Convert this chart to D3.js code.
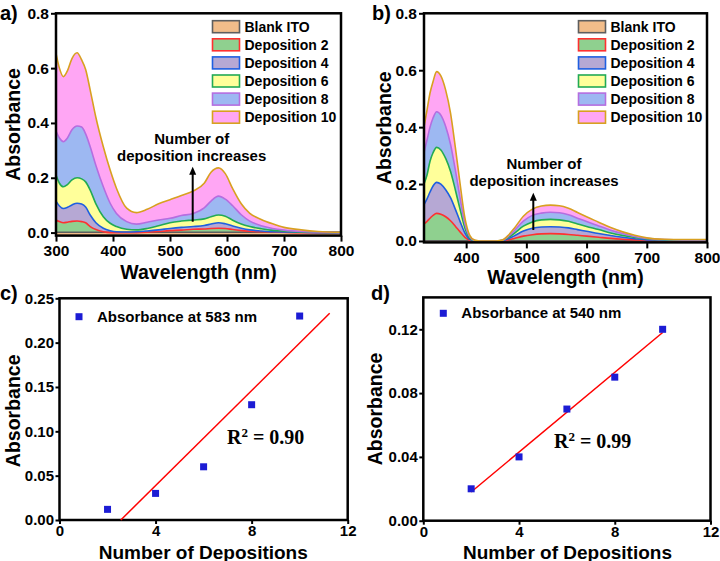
<!DOCTYPE html>
<html><head><meta charset="utf-8">
<script src="https://cdn.jsdelivr.net/npm/d3@7"></script>
<style>
body{margin:0;background:#fff;}
svg{display:block;}
</style></head><body>
<svg id="fig" width="720" height="561"></svg>
<script>
// ---------------- DATA ----------------
const seriesNames = ["Blank ITO","Deposition 2","Deposition 4","Deposition 6","Deposition 8","Deposition 10"];

// Panel a
const wlA = [300,306,313,320,328,337,345,352,360,370,383,395,406,424,441,460,480,500,520,541,560,572,585,597,610,625,640,660,680,700,730,760,800];
const wlBlankA = [300,800];
const blankA = [0.001,0.001];
const dep2A = [0.046,0.040,0.036,0.038,0.041,0.042,0.040,0.036,0.022,0.011,0.003,0.000,0.000,0.000,0.000,0.001,0.004,0.007,0.009,0.012,0.013,0.015,0.016,0.015,0.011,0.007,0.005,0.003,0.002,0.001,0.000,0.000,0.000];
const dep4A = [0.115,0.097,0.088,0.092,0.101,0.107,0.104,0.093,0.064,0.036,0.016,0.007,0.003,0.002,0.003,0.006,0.010,0.015,0.019,0.022,0.026,0.031,0.036,0.032,0.024,0.016,0.010,0.006,0.003,0.002,0.001,0.000,0.000];
const dep6A = [0.210,0.180,0.167,0.175,0.192,0.200,0.196,0.185,0.155,0.105,0.058,0.034,0.022,0.012,0.010,0.015,0.025,0.036,0.042,0.046,0.050,0.058,0.064,0.060,0.045,0.031,0.022,0.014,0.008,0.005,0.002,0.001,0.000];
const dep8A = [0.370,0.345,0.332,0.345,0.375,0.389,0.385,0.360,0.313,0.245,0.167,0.107,0.070,0.040,0.031,0.038,0.046,0.052,0.062,0.070,0.090,0.115,0.133,0.122,0.098,0.065,0.042,0.025,0.015,0.009,0.004,0.002,0.000];
const dep10A = [0.654,0.600,0.569,0.590,0.635,0.656,0.630,0.595,0.520,0.420,0.313,0.228,0.162,0.089,0.073,0.085,0.105,0.120,0.135,0.152,0.180,0.220,0.236,0.215,0.160,0.105,0.070,0.048,0.032,0.019,0.010,0.004,0.001];

// Panel b
const wlB = [330,335,340,345,351,358,366,374,382,390,398,406,414,422,450,460,470,480,495,510,525,540,555,570,585,600,620,640,660,680,700,730,760,800];
const wlBlankB = [330,800];
const blankB = [0.001,0.001];
const dep2B = [0.060,0.069,0.080,0.090,0.097,0.094,0.085,0.071,0.052,0.032,0.013,0.003,0.000,0.000,0.000,0.000,0.004,0.009,0.017,0.022,0.025,0.026,0.025,0.023,0.020,0.017,0.013,0.009,0.006,0.004,0.002,0.001,0.001,0.001];
const dep4B = [0.128,0.148,0.172,0.193,0.206,0.200,0.180,0.152,0.112,0.068,0.028,0.006,0.001,0.000,0.000,0.001,0.008,0.018,0.035,0.045,0.049,0.050,0.049,0.046,0.040,0.034,0.026,0.019,0.013,0.008,0.004,0.003,0.002,0.002];
const dep6B = [0.200,0.232,0.280,0.310,0.329,0.320,0.290,0.245,0.180,0.110,0.045,0.010,0.001,0.000,0.000,0.002,0.012,0.027,0.052,0.067,0.074,0.076,0.074,0.069,0.060,0.051,0.040,0.028,0.019,0.012,0.007,0.004,0.003,0.003];
const dep8B = [0.310,0.355,0.400,0.432,0.454,0.442,0.402,0.340,0.250,0.150,0.060,0.015,0.002,0.000,0.000,0.002,0.016,0.036,0.070,0.090,0.098,0.101,0.099,0.092,0.080,0.068,0.053,0.038,0.026,0.016,0.009,0.005,0.004,0.004];
const dep10B = [0.400,0.460,0.520,0.560,0.595,0.580,0.530,0.450,0.330,0.200,0.080,0.020,0.003,0.000,0.000,0.003,0.020,0.045,0.087,0.112,0.123,0.126,0.124,0.115,0.100,0.085,0.066,0.047,0.032,0.020,0.011,0.006,0.005,0.005];

// Panels c, d
const depositions = [2,4,6,8,10];
const abs583 = [0.012,0.030,0.060,0.130,0.230];
const abs540 = [0.020,0.040,0.070,0.090,0.120];

// Tick values
const xTicksA = [300,400,500,600,700,800];
const xTicksB = [400,500,600,700,800];
const yTicksAB = [0,0.2,0.4,0.6,0.8];
const xTicksCD = [0,4,8,12];
const yTicksC = [0,0.05,0.10,0.15,0.20,0.25];
const yTicksD = [0,0.04,0.08,0.12];

// ---------------- STYLE ----------------
const FONT = "'Liberation Sans', Arial, Helvetica, sans-serif";
const fills = ["#f2bd8a","#8fd08f","#b6a8d4","#ffff9a","#9db8f2","#ffa6f4"];
const strokes = ["#5e5e5e","#ff3030","#1f5fe0","#22aa55","#b46ee0","#d8a020"];

const svg = d3.select("#fig");

function styleAxis(g, size) {
  g.attr("font-family", FONT).attr("font-size", size).attr("font-weight", "bold");
  g.select(".domain").remove();
  g.selectAll(".tick line").attr("stroke", "#000").attr("stroke-width", 2);
  g.selectAll(".tick text").attr("fill", "#000");
}

function drawSpectrum(p) {
  const x = d3.scaleLinear().domain(p.xDomain).range([p.left, p.right]);
  const y = d3.scaleLinear().domain(p.yDomain).range([p.bottom, p.top]);
  const g = svg.append("g");
  const clipId = "clip" + p.id;
  g.append("clipPath").attr("id", clipId).append("rect")
    .attr("x", p.left).attr("y", p.top).attr("width", p.right - p.left).attr("height", p.bottom - p.top);
  const pl = g.append("g").attr("clip-path", `url(#${clipId})`);
  const layers = p.series;
  for (let i = layers.length - 1; i >= 0; i--) {
    const L = layers[i];
    const base = i === 0 ? y(p.yDomain[0]) : y(0);
    const area = d3.area().x((d, j) => x(L.wl[j])).y0(base).y1(d => y(d)).curve(d3.curveMonotoneX);
    pl.append("path").datum(L.vals).attr("d", area).attr("fill", fills[i]);
  }
  for (let i = 0; i < layers.length; i++) {
    const L = layers[i];
    const line = d3.line().x((d, j) => x(L.wl[j])).y(d => y(d)).curve(d3.curveMonotoneX);
    pl.append("path").datum(L.vals).attr("d", line).attr("fill", "none")
      .attr("stroke", strokes[i]).attr("stroke-width", 1.6);
  }
  // axes
  const gx = g.append("g").attr("transform", `translate(0,${p.bottom})`)
    .call(d3.axisBottom(x).tickValues(p.xTicks).tickFormat(d3.format("d")).tickSize(6).tickPadding(p.xPad));
  styleAxis(gx, 15.5);
  const gy = g.append("g").attr("transform", `translate(${p.left},0)`)
    .call(d3.axisLeft(y).tickValues(p.yTicks).tickFormat(d3.format(".1f")).tickSize(5).tickPadding(2));
  styleAxis(gy, 15.5);
  // frame
  g.append("rect").attr("x", p.left).attr("y", p.top).attr("width", p.right - p.left).attr("height", p.bottom - p.top)
    .attr("fill", "none").attr("stroke", "#000").attr("stroke-width", 2.5);
  // titles
  g.append("text").attr("x", (p.left + p.right) / 2).attr("y", p.xTitleY).attr("text-anchor", "middle")
    .attr("font-family", FONT).attr("font-weight", "bold").attr("font-size", 19.5).text("Wavelength (nm)");
  g.append("text").attr("transform", `translate(${p.yTitleX},${(p.top + p.bottom) / 2}) rotate(-90)`)
    .attr("text-anchor", "middle").attr("font-family", FONT).attr("font-weight", "bold").attr("font-size", 19.5).text("Absorbance");
  g.append("text").attr("x", p.labelX).attr("y", 20).attr("font-family", FONT).attr("font-weight", "bold")
    .attr("font-size", 20).text(p.label);
  // legend
  seriesNames.forEach((n, i) => {
    const cy = 26.7 + i * 18.1;
    g.append("rect").attr("x", p.legX).attr("y", cy - 6).attr("width", 27).attr("height", 12)
      .attr("fill", fills[i]).attr("stroke", strokes[i]).attr("stroke-width", 1.6);
    g.append("text").attr("x", p.legX + 32).attr("y", cy + 5).attr("font-family", FONT)
      .attr("font-weight", "bold").attr("font-size", 14).text(n);
  });
  // annotation
  g.append("text").attr("x", p.annX).attr("y", p.annY1).attr("text-anchor", "middle").attr("font-family", FONT)
    .attr("font-weight", "bold").attr("font-size", 15).text("Number of");
  g.append("text").attr("x", p.annX).attr("y", p.annY2).attr("text-anchor", "middle").attr("font-family", FONT)
    .attr("font-weight", "bold").attr("font-size", 15).text("deposition increases");
  g.append("line").attr("x1", p.arrX).attr("x2", p.arrX).attr("y1", p.arrY1).attr("y2", p.arrY2 + 6)
    .attr("stroke", "#000").attr("stroke-width", 2);
  g.append("path").attr("d", `M${p.arrX - 3.5},${p.arrY2 + 8} L${p.arrX},${p.arrY2} L${p.arrX + 3.5},${p.arrY2 + 8} Z`).attr("fill", "#000");
}

drawSpectrum({
  id: "a", label: "a)", labelX: 0,
  xDomain: [300, 800], yDomain: [-0.011, 0.8], left: 56, right: 341, top: 13.3, bottom: 235.6,
  xTicks: xTicksA, yTicks: yTicksAB, xPad: 3, xTitleY: 279.3, yTitleX: 20,
  series: [
    {wl: wlBlankA, vals: blankA}, {wl: wlA, vals: dep2A}, {wl: wlA, vals: dep4A},
    {wl: wlA, vals: dep6A}, {wl: wlA, vals: dep8A}, {wl: wlA, vals: dep10A}
  ],
  legX: 212.5, annX: 191.7, annY1: 144, annY2: 161, arrX: 192.7, arrY1: 221.7, arrY2: 166.7
});

drawSpectrum({
  id: "b", label: "b)", labelX: 372,
  xDomain: [330, 800], yDomain: [-0.005, 0.8], left: 424, right: 707, top: 13.3, bottom: 242.4,
  xTicks: xTicksB, yTicks: yTicksAB, xPad: 3.5, xTitleY: 284.3, yTitleX: 391,
  series: [
    {wl: wlBlankB, vals: blankB}, {wl: wlB, vals: dep2B}, {wl: wlB, vals: dep4B},
    {wl: wlB, vals: dep6B}, {wl: wlB, vals: dep8B}, {wl: wlB, vals: dep10B}
  ],
  legX: 578.5, annX: 544, annY1: 169, annY2: 186, arrX: 533.3, arrY1: 230, arrY2: 192.7
});

function drawScatter(p) {
  const x = d3.scaleLinear().domain([0, 12]).range([p.left, p.right]);
  const y = d3.scaleLinear().domain(p.yDomain).range([p.bottom, p.top]);
  const g = svg.append("g");
  const gx = g.append("g").attr("transform", `translate(0,${p.bottom})`)
    .call(d3.axisBottom(x).tickValues(xTicksCD).tickFormat(d3.format("d")).tickSize(4).tickPadding(p.xPad));
  styleAxis(gx, 15);
  const gy = g.append("g").attr("transform", `translate(${p.left},0)`)
    .call(d3.axisLeft(y).tickValues(p.yTicks).tickFormat(d3.format(".2f")).tickSize(4).tickPadding(1.5));
  styleAxis(gy, 15);
  g.append("rect").attr("x", p.left).attr("y", p.top).attr("width", p.right - p.left).attr("height", p.bottom - p.top)
    .attr("fill", "none").attr("stroke", "#000").attr("stroke-width", 2.5);
  // linear fit (least squares)
  const xs = depositions, ys = p.vals;
  const mx = d3.mean(xs), my = d3.mean(ys);
  const slope = d3.sum(xs, (v, i) => (v - mx) * (ys[i] - my)) / d3.sum(xs, v => (v - mx) * (v - mx));
  const icpt = my - slope * mx;
  const x0 = p.fitX[0] === null ? -icpt / slope : p.fitX[0];
  const x1 = p.fitX[1];
  g.append("line").attr("x1", x(x0)).attr("y1", y(slope * x0 + icpt)).attr("x2", x(x1)).attr("y2", y(slope * x1 + icpt))
    .attr("stroke", "#ff0000").attr("stroke-width", 1.5);
  g.selectAll("rect.pt").data(ys).join("rect").attr("class", "pt")
    .attr("x", (d, i) => x(xs[i]) - 3.5).attr("y", d => y(d) - 3.5).attr("width", 7).attr("height", 7)
    .attr("fill", "#1c1cd4");
  // legend
  g.append("rect").attr("x", p.legX - 3.5).attr("y", p.legY - 3.5).attr("width", 7).attr("height", 7).attr("fill", "#1c1cd4");
  g.append("text").attr("x", p.legX + 18).attr("y", p.legY + 5).attr("font-family", FONT).attr("font-weight", "bold")
    .attr("font-size", 15).text(p.legText);
  // R^2
  const t = g.append("text").attr("x", p.rX).attr("y", p.rY).attr("font-family", "'Liberation Serif', 'Times New Roman', serif")
    .attr("font-weight", "bold").attr("font-size", 20);
  t.append("tspan").text("R");
  t.append("tspan").attr("font-size", 13).attr("dy", -7).text("2");
  t.append("tspan").attr("dy", 7).text(" = " + p.r2);
  // titles
  g.append("text").attr("x", p.xTitleX).attr("y", 558.5).attr("text-anchor", "middle").attr("font-family", FONT)
    .attr("font-weight", "bold").attr("font-size", 19).text("Number of Depositions");
  g.append("text").attr("transform", `translate(${p.yTitleX},${p.yTitleCY}) rotate(-90)`).attr("text-anchor", "middle")
    .attr("font-family", FONT).attr("font-weight", "bold").attr("font-size", 19.5).text("Absorbance");
  g.append("text").attr("x", p.labelX).attr("y", 300).attr("font-family", FONT).attr("font-weight", "bold")
    .attr("font-size", 20).text(p.label);
}

drawScatter({
  label: "c)", labelX: 0, vals: abs583, yDomain: [0, 0.25], yTicks: yTicksC,
  left: 59.5, right: 347.7, top: 298.3, bottom: 520, xPad: 1.5,
  fitX: [null, 11.25], legX: 79, legY: 316.7, legText: "Absorbance at 583 nm",
  rX: 227, rY: 444, r2: "0.90", xTitleX: 203.3, yTitleX: 20, yTitleCY: 410.8
});

drawScatter({
  label: "d)", labelX: 371, vals: abs540, yDomain: [0, 0.14], yTicks: yTicksD,
  left: 423.3, right: 710.5, top: 297.4, bottom: 520.7, xPad: 1.5,
  fitX: [2, 10], legX: 443.3, legY: 313.3, legText: "Absorbance at 540 nm",
  rX: 554, rY: 448, r2: "0.99", xTitleX: 567.5, yTitleX: 381.7, yTitleCY: 409
});
</script>
</body></html>
